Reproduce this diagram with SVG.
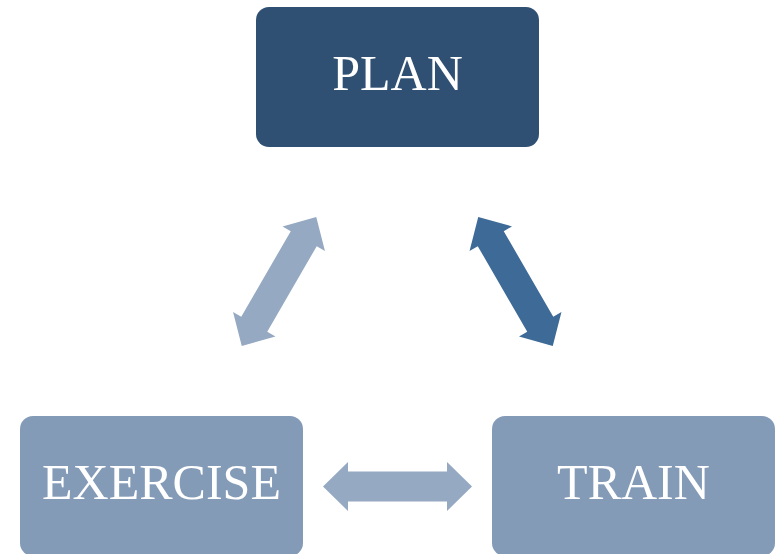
<svg xmlns="http://www.w3.org/2000/svg" width="776" height="554" viewBox="0 0 776 554">
<style>
.lbl{font-family:"Liberation Serif","Times New Roman",serif;font-size:50px;fill:#ffffff;text-anchor:middle}
.light{fill:#849BB8}
.arrL{fill:#95A9C3}
.arrD{fill:#3E6A97}
</style>
<defs>
<path id="dbl" d="M-74.5,0 L-49.5,-24.5 L-49.5,-15 L49.5,-15 L49.5,-24.5 L74.5,0 L49.5,24.5 L49.5,15 L-49.5,15 L-49.5,24.5 Z"/>
</defs>
<rect width="776" height="554" fill="#ffffff"/>
<g id="connectors">
<use href="#dbl" class="arrL" transform="translate(279,281.5) rotate(-60)"/>
<use href="#dbl" class="arrD" transform="translate(515.5,281.5) rotate(60)"/>
<use href="#dbl" class="arrL" transform="translate(397.5,486.5)"/>
</g>
<g id="plan">
<rect x="256" y="7" width="283" height="140" rx="13" fill="#2F5072"/>
<text class="lbl" x="397.5" y="90">PLAN</text>
</g>
<g id="exercise">
<rect x="20" y="416" width="283" height="140" rx="13" class="light"/>
<text class="lbl" x="161.5" y="499">EXERCISE</text>
</g>
<g id="train">
<rect x="492" y="416" width="283" height="140" rx="13" class="light"/>
<text class="lbl" x="633.5" y="499">TRAIN</text>
</g>
</svg>
